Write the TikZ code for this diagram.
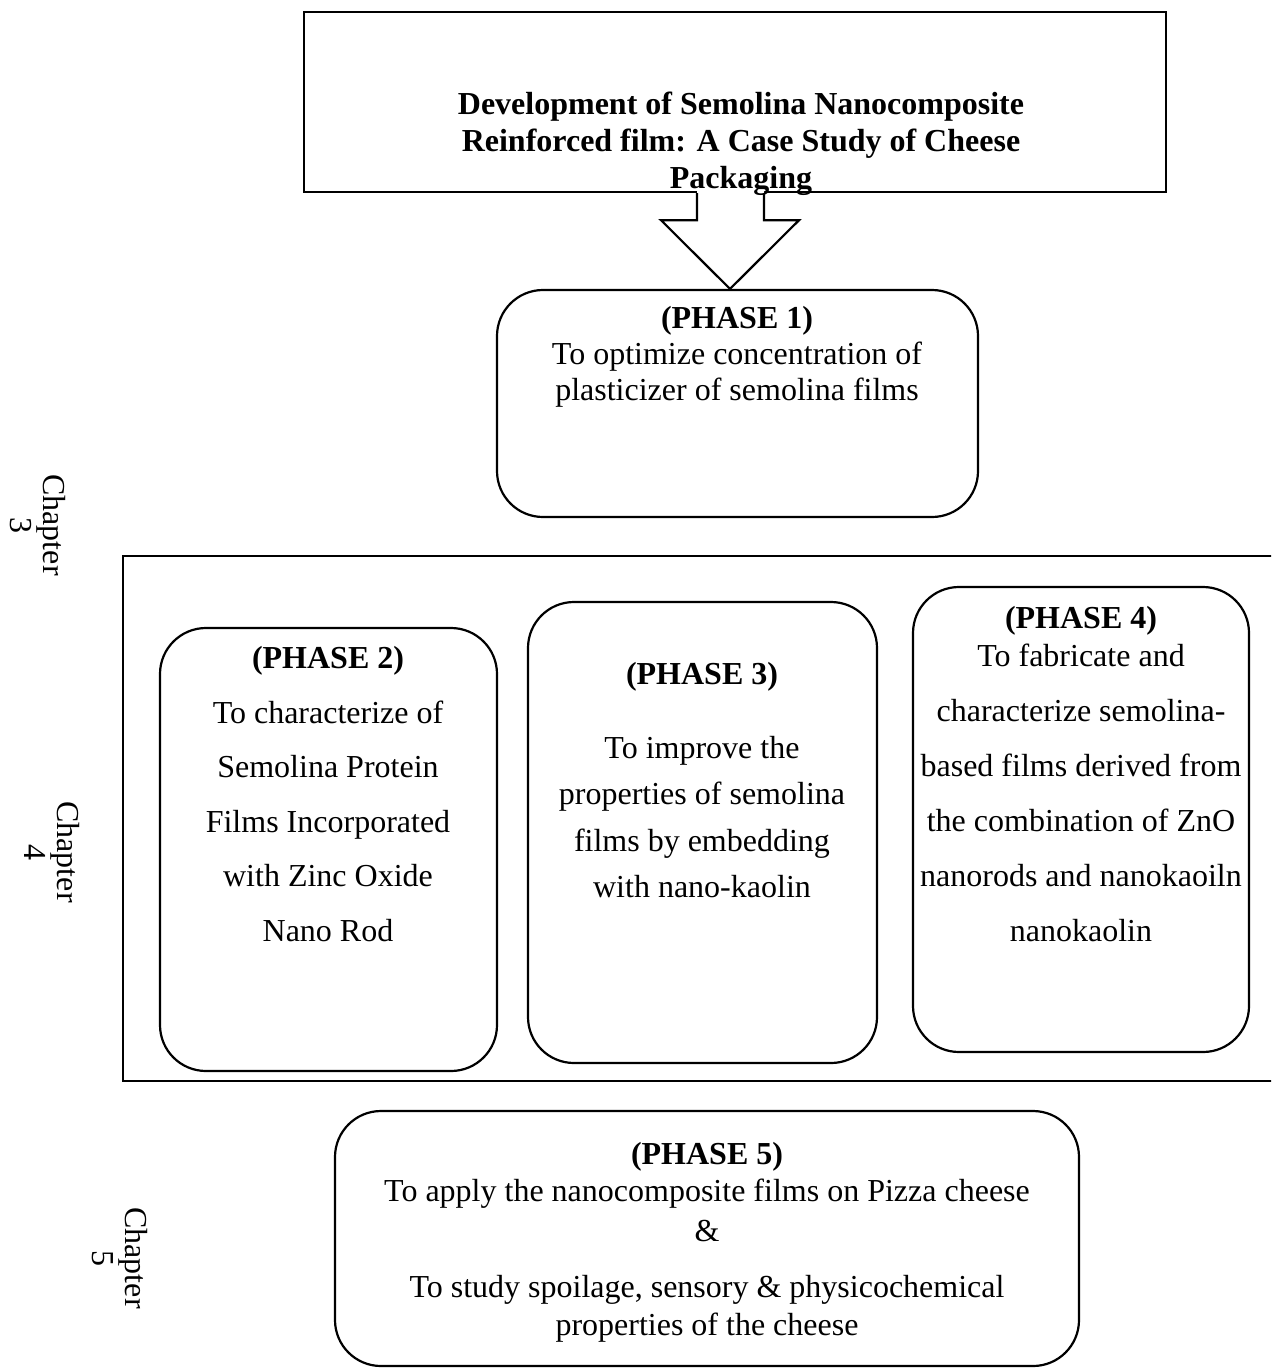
\documentclass[tikz,border=0pt]{standalone}
\usepackage{fontspec}
\setmainfont{Liberation Serif}
\usetikzlibrary{calc}
\begin{document}
\begin{tikzpicture}[x=1pt,y=-1pt,
  sqbox/.style={draw,line width=2.4pt,inner sep=0pt,rectangle},
  rbox/.style={draw,line width=2.2pt,inner sep=0pt,rectangle,rounded corners=46pt},
  txt/.style={inner sep=0pt,align=center},
  chap/.style={inner sep=0pt,align=center,rotate=-90,font=\fontsize{32}{33}\selectfont}]
\useasboundingbox (0,0) rectangle (1271,1370);
\clip (0,0) rectangle (1271,1370);
\fill[white] (0,0) rectangle (1271,1370);

% boxes
\node[sqbox,minimum width=862pt,minimum height=180pt] (title) at (735,102) {};
\node[rbox,minimum width=481pt,minimum height=227pt] (p1) at (737.5,403.5) {};
\node[sqbox,minimum width=1167pt,minimum height=525pt] (frame) at (706.5,818.5) {};
\node[rbox,minimum width=337pt,minimum height=443pt] (p2) at (328.5,849.5) {};
\node[rbox,minimum width=349pt,minimum height=461pt] (p3) at (702.5,832.5) {};
\node[rbox,minimum width=336pt,minimum height=465pt] (p4) at (1081,819.5) {};
\node[rbox,minimum width=744pt,minimum height=255pt] (p5) at (707,1238.5) {};

% block arrow from title to phase 1
\coordinate (tip) at ($(p1.north)+(-7.5,0)$);
\coordinate (base) at (title.south -| tip);
\fill[white] ($(base)+(-33,-3)$) -- ($(base)+(-33,27)$) -- ($(base)+(-69,27)$) -- (tip)
  -- ($(base)+(69,27)$) -- ($(base)+(34,27)$) -- ($(base)+(34,-3)$) -- cycle;
\draw[line width=2.2pt,line join=miter] ($(base)+(-33,0)$) -- ($(base)+(-33,27)$) -- ($(base)+(-69,27)$) -- (tip)
  -- ($(base)+(69,27)$) -- ($(base)+(34,27)$) -- ($(base)+(34,0)$);

% texts
\node[txt,font=\bfseries\fontsize{32}{37}\selectfont] (tt) at (741,144)
  {Development of Semolina Nanocomposite\\Reinforced film: A Case Study of Cheese\\Packaging};
\node[txt,font=\fontsize{32}{36}\selectfont] (t1) at (737,357)
  {\textbf{(PHASE 1)}\\To optimize concentration of\\plasticizer of semolina films};
\node[txt,font=\fontsize{32}{54.6}\selectfont] (t2) at (328,794)
  {\textbf{(PHASE 2)}\\To characterize of\\Semolina Protein\\Films Incorporated\\with Zinc Oxide\\Nano Rod};
\node[txt,font=\fontsize{32}{46.3}\selectfont] (t3) at (702,780)
  {\textbf{(PHASE 3)}\\[28pt]To improve the\\properties of semolina\\films by embedding\\with nano-kaolin};
\node[txt,font=\fontsize{32}{55}\selectfont] (t4) at (1081,774)
  {\textbf{(PHASE 4)}\\[-17pt]To fabricate and\\characterize semolina-\\based films derived from\\the combination of ZnO\\nanorods and nanokaoiln\\nanokaolin};
\node[txt,font=\fontsize{32}{37}\selectfont] (t5) at (707,1242)
  {\textbf{(PHASE 5)}\\To apply the nanocomposite films on Pizza cheese\\[3pt]\&\\[19pt]To study spoilage, sensory \& physicochemical\\[1pt]properties of the cheese};

% chapter labels
\node[chap] (c3) at (38,525) {Chapter\\3};
\node[chap] (c4) at (52,852) {Chapter\\4};
\node[chap] (c5) at (120,1258) {Chapter\\5};
\end{tikzpicture}
\end{document}
